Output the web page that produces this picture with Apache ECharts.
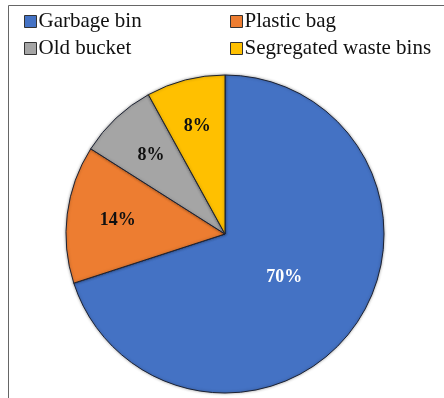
<!DOCTYPE html>
<html>
<head>
<meta charset="utf-8">
<script src="https://cdn.jsdelivr.net/npm/echarts@6/dist/echarts.min.js"></script>
<style>
  html, body { margin: 0; padding: 0; background: #ffffff; }
  #chart { width: 444px; height: 398px; }
</style>
</head>
<body>
<div id="chart"></div>
<script>
// Waste disposal container types (percent of respondents)
const categories = ['Garbage bin', 'Plastic bag', 'Old bucket', 'Segregated waste bins'];
const shares = [70, 14, 8, 8];
const colors = ['#4472C4', '#ED7D31', '#A5A5A5', '#FFC000'];
const labelColors = ['#ffffff', '#111111', '#111111', '#111111'];
// how far from the centre each percentage sits, as a fraction of the radius
const labelDepth = [0.46, 0.68, 0.68, 0.70];

const W = 444, H = 398;
const cx = 225, cy = 234, R = 159;
const serif = '"Liberation Serif", "Times New Roman", serif';

const total = shares.reduce((a, b) => a + b, 0);
const midAngles = [];
let acc = 0;
shares.forEach(v => {
  midAngles.push(((acc + v / 2) / total) * 2 * Math.PI);
  acc += v;
});

const chart = echarts.init(document.getElementById('chart'), null, { renderer: 'canvas' });

const legendCommon = {
  orient: 'vertical',
  top: 6,
  itemWidth: 12,
  itemHeight: 12,
  itemGap: 6,
  icon: 'rect',
  selectedMode: false,
  itemStyle: { borderColor: '#333', borderWidth: 1 },
  textStyle: { fontFamily: serif, fontSize: 21, color: '#111', padding: [0, 0, 0, -3] }
};

chart.setOption({
  animation: false,
  backgroundColor: '#ffffff',
  color: colors,
  legend: [
    Object.assign({}, legendCommon, { left: 19, data: [categories[0], categories[2]] }),
    Object.assign({}, legendCommon, { left: 225, data: [categories[1], categories[3]] })
  ],
  graphic: [{
    type: 'polyline',
    shape: { points: [[8.5, H], [8.5, 5.5], [W, 5.5]] },
    style: { stroke: '#666', lineWidth: 1, fill: null },
    silent: true
  }],
  series: [{
    type: 'pie',
    center: [cx, cy],
    radius: [0, R],
    startAngle: 90,
    clockwise: true,
    avoidLabelOverlap: false,
    itemStyle: {
      borderColor: '#1c2233',
      borderWidth: 1,
      shadowBlur: 3,
      shadowColor: 'rgba(0,0,0,0.35)'
    },
    label: {
      show: true,
      position: 'inside',
      formatter: p => p.value + '%',
      fontFamily: serif,
      fontSize: 18,
      fontWeight: 'bold'
    },
    labelLine: { show: false },
    labelLayout: p => {
      const i = p.dataIndex;
      const a = midAngles[i];
      return {
        x: cx + labelDepth[i] * R * Math.sin(a),
        y: cy - labelDepth[i] * R * Math.cos(a),
        align: 'center',
        verticalAlign: 'middle'
      };
    },
    data: categories.map((name, i) => ({
      name,
      value: shares[i],
      label: { color: labelColors[i] }
    }))
  }]
});
</script>
</body>
</html>
